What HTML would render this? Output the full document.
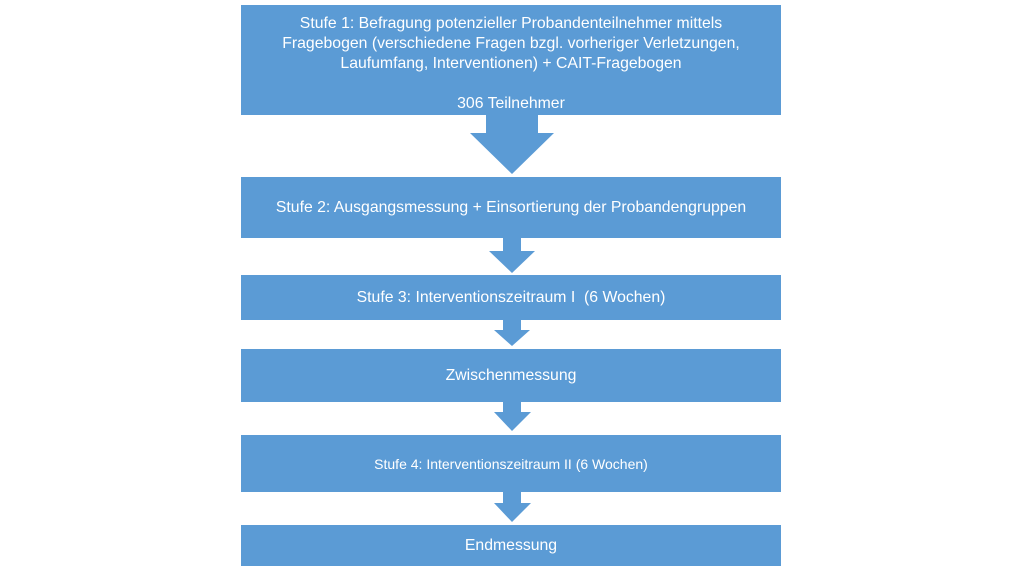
<!DOCTYPE html>
<html><head><meta charset="utf-8"><style>
html,body{margin:0;padding:0;background:#fff;width:1024px;height:576px;overflow:hidden;position:relative}
.b{position:absolute;left:241px;width:540px;background:#5b9bd5;color:#fff;font-family:"Liberation Sans",sans-serif;text-align:center;display:flex;align-items:center;justify-content:center;font-size:15.8px;line-height:20px;white-space:nowrap}
svg{position:absolute;left:0;top:0}
</style></head><body>
<svg width="1024" height="576">
<g fill="#5b9bd5">
<polygon points="486,115 538,115 538,133 554,133 512,174 470,133 486,133"/>
<polygon points="503,238 521,238 521,251 535,251 512,273 489,251 503,251"/>
<polygon points="503,320 521,320 521,330 530,330 512,346 494,330 503,330"/>
<polygon points="503,402 521,402 521,412 531,412 512,431 494,412 503,412"/>
<polygon points="503,492 521,492 521,503 531,503 512,522 494,503 503,503"/>
</g></svg>
<div class="b" style="top:5px;height:110px;align-items:flex-start"><div style="padding-top:9px">Stufe 1: Befragung potenzieller Probandenteilnehmer mittels<br>Fragebogen (verschiedene Fragen bzgl. vorheriger Verletzungen,<br>Laufumfang, Interventionen) + CAIT-Fragebogen<br><br>306 Teilnehmer</div></div>
<div class="b" style="top:177px;height:61px">Stufe 2: Ausgangsmessung + Einsortierung der Probandengruppen</div>
<div class="b" style="top:275px;height:45px">Stufe 3: Interventionszeitraum I &nbsp;(6 Wochen)</div>
<div class="b" style="top:349px;height:53px">Zwischenmessung</div>
<div class="b" style="top:435px;height:57px;font-size:14px">Stufe 4: Interventionszeitraum II (6 Wochen)</div>
<div class="b" style="top:525px;height:41px">Endmessung</div>
</body></html>
